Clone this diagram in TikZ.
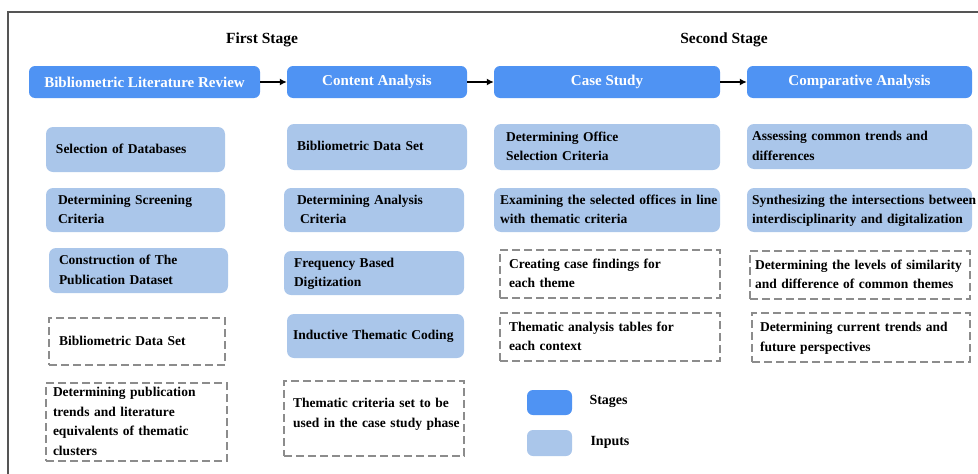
\documentclass[tikz,border=0pt]{standalone}
\usepackage{fontspec}
\setmainfont{Liberation Serif}
\usepackage{tikz}
\definecolor{stageblue}{RGB}{79, 147, 243}
\definecolor{inputblue}{RGB}{170, 198, 234}
\definecolor{framegray}{RGB}{85, 85, 85}
\definecolor{dashgray}{RGB}{140, 140, 140}
\usetikzlibrary{arrows.meta, shapes}
\newcommand{\zeilen}[1]{\begin{tabular}{@{}l@{}}#1\end{tabular}}

\begin{document}
\begin{tikzpicture}[x=1pt, y=-1pt, >={Latex[length=7pt, width=7pt]},
		stagebox/.style={fill=stageblue, rounded corners=6pt, minimum width=#1, minimum height=32pt, inner sep=0pt, text=white, font=\fontsize{15}{18}\selectfont\bfseries},
		inbox/.style n args={3}{fill=inputblue, rounded corners=7pt, minimum width=#1, minimum height=#2, inner xsep=#3, inner ysep=0pt, text width=#1-2*#3, font=\fontsize{13.5}{19.5}\selectfont\bfseries},
		outbox/.style n args={3}{draw=dashgray, dash pattern=on 8pt off 4pt, line width=1.2pt, minimum width=#1, minimum height=#2, inner xsep=#3, inner ysep=0pt, text width=#1-2*#3, font=\fontsize{13.5}{19.5}\selectfont\bfseries},
		title/.style={font=\fontsize{15.5}{18}\selectfont\bfseries}]
	\useasboundingbox (0,0) rectangle (978,474);
	%Rahmen zeichnen
	\draw[framegray, line width=1.5pt] (978,12) -- (8,12) -- (8,474);
	% Ueberschriften
	\node[title] (first) at (262,40) {First Stage};
	\node[title] (second) at (724,40) {Second Stage};
	% Stufen
	\node[stagebox=231] (blr) at (144.5,82) {Bibliometric Literature Review};
	\node[stagebox=180] (cna) at (377,82) {Content Analysis};
	\node[stagebox=226] (cst) at (607,82) {Case Study};
	\node[stagebox=225] (cmp) at (859.5,82) {Comparative Analysis};
	\foreach \a/\b in {blr/cna, cna/cst, cst/cmp}
		\draw[->, line width=1.4pt] (\a) -- (\b);
	% Erste Spalte
	\node[inbox={179}{45}{10}] (sel) at (135.5,149.5) {\zeilen{Selection of Databases}};
	\node[inbox={179}{44}{12}] (scr) at (135.5,210) {\zeilen{Determining Screening\\Criteria}};
	\node[inbox={179}{45}{10}] (con) at (138.5,270.5) {\zeilen{Construction of The\\Publication Dataset}};
	\node[outbox={176}{47}{10}] (bds) at (137,341.5) {\zeilen{Bibliometric Data Set}};
	\node[outbox={181}{78}{7}] (pub) at (136.5,422) {\zeilen{Determining publication\\trends and literature\\equivalents of thematic\\clusters}};
	% Zweite Spalte
	\node[inbox={180}{46}{10}] (cbd) at (377,147) {\zeilen{Bibliometric Data Set}};
	\node[inbox={180}{44}{13}] (anc) at (374,210) {\zeilen{Determining Analysis\\\hspace*{3pt}Criteria}};
	\node[inbox={180}{44}{10}] (frq) at (374,273) {\zeilen{Frequency Based\\Digitization}};
	\node[inbox={177}{44}{6}] (ind) at (375.5,336) {\zeilen{Inductive Thematic Coding}};
	\node[outbox={180}{75}{9}] (tcs) at (374,418.5) {\zeilen{Thematic criteria set to be\\used in the case study phase\\[10pt]}};
	% Dritte Spalte
	\node[inbox={226}{46}{12}] (off) at (607,147) {\zeilen{Determining Office\\Selection Criteria}};
	\node[inbox={226}{44}{6}] (exm) at (607,210) {\zeilen{Examining the selected offices in line\\with thematic criteria}};
	\node[outbox={220}{48}{9}] (crf) at (610,274) {\zeilen{Creating case findings for\\each theme}};
	\node[outbox={220}{48}{9}] (tat) at (610,337) {\zeilen{Thematic analysis tables for\\each context}};
	% Vierte Spalte
	\node[inbox={225}{45}{5}] (ass) at (859.5,146.5) {\zeilen{Assessing common trends and\\differences}};
	\node[inbox={225}{44}{5}] (syn) at (859.5,210) {\zeilen{Synthesizing the intersections between\\interdisciplinarity and digitalization}};
	\node[outbox={220}{48}{5}] (lev) at (860,275) {\zeilen{Determining the levels of similarity\\and difference of common themes}};
	\node[outbox={218}{49}{8}] (cur) at (861,337.5) {\zeilen{Determining current trends and\\future perspectives}};
	% Legende
	\node[fill=stageblue, rounded corners=6pt, minimum width=45pt, minimum height=25pt] (legstage) at (549.5,402.5) {};
	\node[fill=inputblue, rounded corners=6pt, minimum width=45pt, minimum height=26pt] (leginput) at (549.5,443) {};
	\node[anchor=west, font=\fontsize{14}{17}\selectfont\bfseries] (stagestext) at (586,401) {Stages};
	\node[anchor=west, font=\fontsize{14}{17}\selectfont\bfseries] (inputstext) at (587,442) {Inputs};
\end{tikzpicture}
\end{document}
